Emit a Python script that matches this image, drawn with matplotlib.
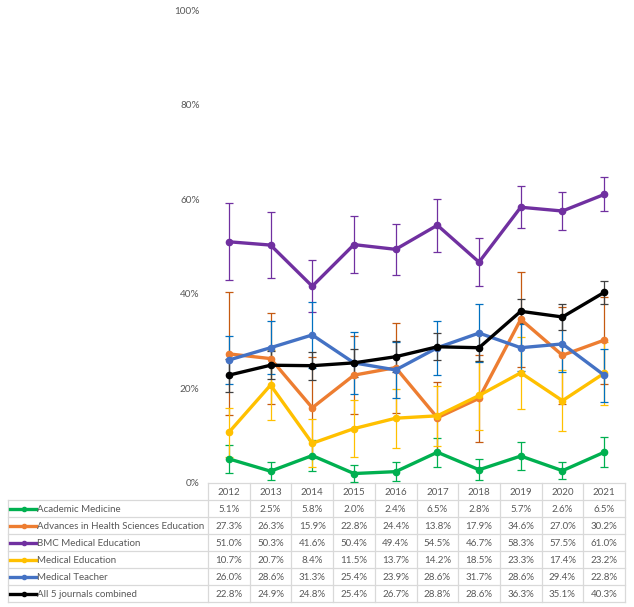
import matplotlib
matplotlib.use("Agg")
import matplotlib.pyplot as plt
from matplotlib.lines import Line2D

plt.rcParams['font.family'] = ['Lato', 'DejaVu Sans']

years = ["2012", "2013", "2014", "2015", "2016", "2017", "2018", "2019", "2020", "2021"]
series_names = [
    "Academic Medicine",
    "Advances in Health Sciences Education",
    "BMC Medical Education",
    "Medical Education",
    "Medical Teacher",
    "All 5 journals combined",
]
academic_medicine = [5.1, 2.5, 5.8, 2.0, 2.4, 6.5, 2.8, 5.7, 2.6, 6.5]
advances_hse = [27.3, 26.3, 15.9, 22.8, 24.4, 13.8, 17.9, 34.6, 27.0, 30.2]
bmc_med_ed = [51.0, 50.3, 41.6, 50.4, 49.4, 54.5, 46.7, 58.3, 57.5, 61.0]
medical_education = [10.7, 20.7, 8.4, 11.5, 13.7, 14.2, 18.5, 23.3, 17.4, 23.2]
medical_teacher = [26.0, 28.6, 31.3, 25.4, 23.9, 28.6, 31.7, 28.6, 29.4, 22.8]
all_combined = [22.8, 24.9, 24.8, 25.4, 26.7, 28.8, 28.6, 36.3, 35.1, 40.3]

err_academic = [2.9, 1.9, 3.3, 1.8, 2.0, 3.1, 2.2, 3.0, 1.8, 3.2]
err_advances = [13.0, 9.7, 10.7, 8.2, 9.5, 7.5, 9.2, 10.1, 10.3, 9.2]
err_bmc = [8.1, 7.0, 5.5, 6.0, 5.4, 5.6, 5.0, 4.4, 4.1, 3.6]
err_meded = [5.1, 7.4, 5.1, 6.0, 6.2, 6.3, 7.3, 7.6, 6.4, 6.7]
err_teacher = [5.1, 5.6, 7.0, 6.6, 6.0, 5.7, 6.1, 5.0, 6.0, 5.6]
err_all = [3.5, 3.0, 3.0, 2.9, 3.3, 2.9, 2.8, 2.5, 2.8, 2.5]

values = [academic_medicine, advances_hse, bmc_med_ed, medical_education, medical_teacher, all_combined]
errors = [err_academic, err_advances, err_bmc, err_meded, err_teacher, err_all]
line_colors = ["#00B050", "#ED7D31", "#7030A0", "#FFC000", "#4472C4", "#000000"]
err_colors = ["#00B050", "#C55A11", "#7030A0", "#FFC000", "#0070C0", "#404040"]

W, H = 634, 607
fig = plt.figure(figsize=(W / 100, H / 100), dpi=100)

# layout in pixels
plot_left, plot_right = 208, 625
plot_top, plot_bottom = 10, 483
ax = fig.add_axes([plot_left / W, 1 - plot_bottom / H,
                   (plot_right - plot_left) / W, (plot_bottom - plot_top) / H])
x = list(range(len(years)))
for vals, errs, lc, ec in zip(values, errors, line_colors, err_colors):
    ax.errorbar(x, vals, yerr=errs, fmt='none', ecolor=ec, elinewidth=0.9,
                capsize=2.6, capthick=0.9, zorder=2)
    ax.plot(x, vals, color=lc, lw=2.4, marker='o', markersize=4.5, zorder=3,
            solid_joinstyle='round')
ax.set_xlim(-0.5, len(years) - 0.5)
ax.set_ylim(0, 100)
ax.set_yticks([0, 20, 40, 60, 80, 100])
ax.set_yticklabels([f"{t}%" for t in [0, 20, 40, 60, 80, 100]])
ax.tick_params(axis='y', length=0, labelsize=7.2, labelcolor="#595959", pad=6)
ax.set_xticks([])
for s in ax.spines.values():
    s.set_visible(False)
ax.patch.set_alpha(0)

# table overlay in pixel coords
tab = fig.add_axes([0, 0, 1, 1], zorder=-1)
tab.set_xlim(0, W)
tab.set_ylim(H, 0)
tab.axis('off')
grid_c = "#D9D9D9"
text_c = "#595959"
row_h = 17.05
table_left = 8
col_w = (plot_right - plot_left) / len(years)
header_top = plot_bottom
n_rows = len(series_names)
row_tops = [header_top + row_h * (i + 1) for i in range(n_rows + 1)]
table_bottom = row_tops[-1]

# horizontal lines
tab.plot([plot_left, plot_right], [header_top, header_top], color=grid_c, lw=0.9)
for yy in row_tops:
    tab.plot([table_left, plot_right], [yy, yy], color=grid_c, lw=0.9)
# vertical lines
tab.plot([table_left, table_left], [row_tops[0], table_bottom], color=grid_c, lw=0.9)
for j in range(len(years) + 1):
    xx = plot_left + j * col_w
    tab.plot([xx, xx], [header_top, table_bottom], color=grid_c, lw=0.9)

fs = 7.0
# header
for j, yr in enumerate(years):
    tab.text(plot_left + (j + 0.5) * col_w, header_top + row_h / 2 + 0.5, yr,
             ha='center', va='center', fontsize=fs, color=text_c)
# rows
for i, (name, vals, lc) in enumerate(zip(series_names, values, line_colors)):
    yc = row_tops[i] + row_h / 2 + 0.5
    tab.add_line(Line2D([table_left + 2, table_left + 28], [yc, yc], color=lc, lw=2.4))
    tab.plot([table_left + 15.5], [yc], marker='o', markersize=3, color=lc)
    tab.text(table_left + 29, yc, name, ha='left', va='center', fontsize=fs, color=text_c)
    for j, v in enumerate(vals):
        tab.text(plot_left + (j + 0.5) * col_w, yc, f"{v:.1f}%",
                 ha='center', va='center', fontsize=fs, color=text_c)

fig.savefig("out.png", dpi=100)
